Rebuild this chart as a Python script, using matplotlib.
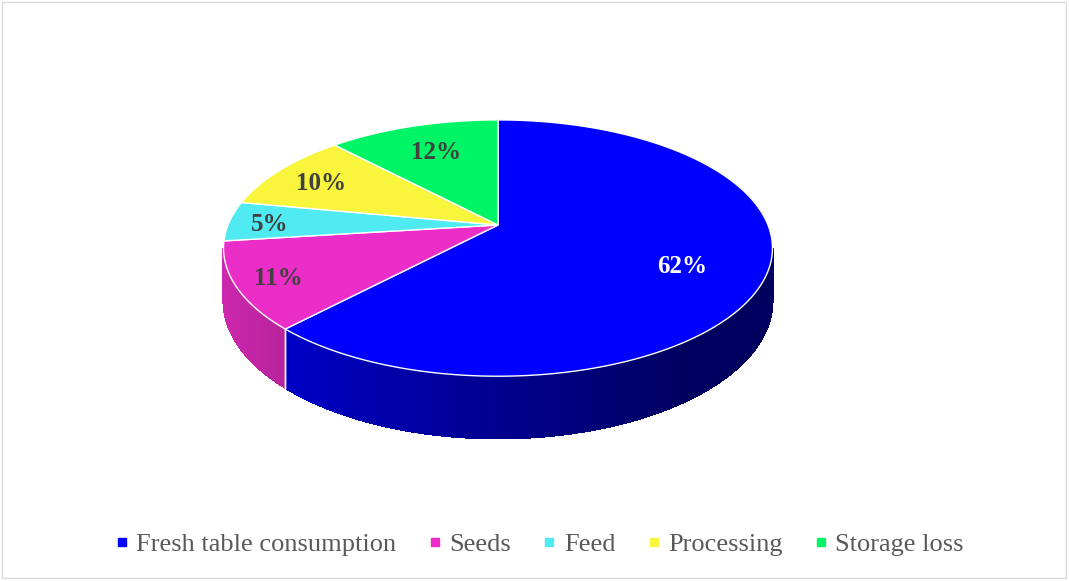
import numpy as np
import matplotlib
matplotlib.use("Agg")
import matplotlib.pyplot as plt
from matplotlib.collections import PolyCollection
from matplotlib.patches import Polygon, Rectangle
from matplotlib.lines import Line2D
import matplotlib.colors as mcolors

# ---- data ----
categories = ["Fresh table consumption", "Seeds", "Feed", "Processing", "Storage loss"]
values = [62, 11, 5, 10, 12]
labels = ["62%", "11%", "5%", "10%", "12%"]

# ---- style ----
colors = ["#0000FF", "#EC2EC8", "#50EBF2", "#F8F53C", "#00F566"]
label_colors = ["white", "#404040", "#404040", "#404040", "#404040"]
label_r = [0.70, 0.85, 0.85, 0.80, 0.70]
label_dy = [8, 2, 3, 3, 0]

W, H = 1069, 581
fig = plt.figure(figsize=(W / 100, H / 100), dpi=100)
ax = fig.add_axes([0, 0, 1, 1])
ax.set_xlim(0, W)
ax.set_ylim(H, 0)
ax.axis("off")

# outer frame
ax.add_patch(Rectangle((2, 2), W - 5, H - 5, fill=False, edgecolor="#D9D9D9", lw=1))

# projection of a 3D pie (pixel coordinates)
cx, cy, R, K, a, depth = 498, 225, 270, 124, 0.18, 51


def proj(theta_deg, r=1.0, z=0.0):
    t = np.radians(theta_deg)
    u = r * np.sin(t)
    v = r * np.cos(t)
    s = 1.0 / (1.0 + a * v)
    return cx + R * u * s, cy - K * v * s + depth * z * s


# silhouette angles (extreme x of the projected rim)
grid = np.linspace(0, 360, 3601)
xs = np.array([proj(t)[0] for t in grid])
t_right = grid[np.argmax(xs)]
t_left = grid[np.argmin(xs)]

total = float(sum(values))
bounds = np.concatenate([[0], np.cumsum(values)]) / total * 360.0

# ---- side walls (visible front part) ----
for i in range(len(values)):
    t0, t1 = max(bounds[i], t_right), min(bounds[i + 1], t_left)
    if t1 <= t0:
        continue
    ts = np.linspace(t0, t1, int((t1 - t0) * 2) + 2)
    polys, cols = [], []
    base = np.array(mcolors.to_rgb(colors[i]))
    for ta, tb in zip(ts[:-1], ts[1:]):
        xa0, ya0 = proj(ta)
        xb0, yb0 = proj(tb)
        xa1, ya1 = proj(ta, z=1)
        xb1, yb1 = proj(tb, z=1)
        polys.append([(xa0, ya0), (xb0, yb0), (xb1, yb1), (xa1, ya1)])
        um = np.sin(np.radians((ta + tb) / 2))
        f = max(0.37, 0.56 - 0.32 * um)
        cols.append(tuple(np.clip(base * f, 0, 1)))
    ax.add_collection(PolyCollection(polys, facecolors=cols, edgecolors=cols,
                                     linewidths=0.8, antialiaseds=False))
    # white vertical separators
    for t in (bounds[i], bounds[i + 1]):
        if t_right < t < t_left:
            x0, y0 = proj(t)
            x1, y1 = proj(t, z=1)
            ax.plot([x0, x1], [y0, y1], color="white", lw=1.0)

# ---- top faces ----
for i in range(len(values)):
    ts = np.linspace(bounds[i], bounds[i + 1], 200)
    pts = [(cx, cy)] + [proj(t) for t in ts]
    ax.add_patch(Polygon(pts, closed=True, facecolor=colors[i], edgecolor="white", lw=1.0))

# ---- labels ----
for i in range(len(values)):
    mid = (bounds[i] + bounds[i + 1]) / 2
    x, y = proj(mid, r=label_r[i])
    ax.text(x, y + label_dy[i], labels[i], ha="center", va="center", fontsize=18,
            fontweight="bold", family="Liberation Serif", color=label_colors[i])

# ---- legend ----
handles = [Line2D([], [], marker="s", linestyle="none", markersize=6, markerfacecolor=c,
                  markeredgecolor=c) for c in colors]
leg = ax.legend(handles, categories, loc="center", bbox_to_anchor=(539 / W, 1 - 544 / H),
                ncol=5, frameon=False, handletextpad=0.25, columnspacing=1.15,
                prop={"family": "Liberation Serif", "size": 19}, labelcolor="#595959",
                handlelength=0.6)

fig.savefig("out.png", dpi=100)
